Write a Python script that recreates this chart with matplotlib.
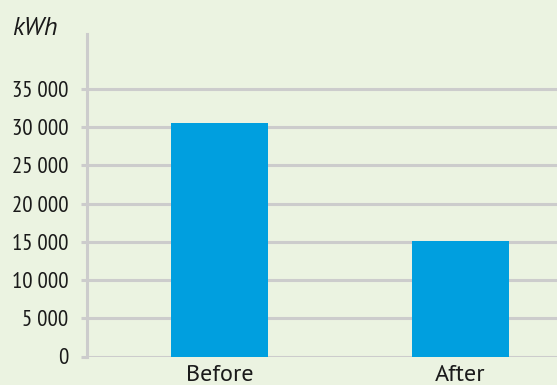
import matplotlib
matplotlib.use("Agg")
import matplotlib.pyplot as plt

categories = ["Before", "After"]
energy_kwh = [30550, 15100]
y_ticks = [0, 5000, 10000, 15000, 20000, 25000, 30000, 35000]
y_labels = ["0", "5 000", "10 000", "15 000", "20 000", "25 000", "30 000", "35 000"]

bg = "#ebf3e1"
grid_col = "#cccccc"
bar_col = "#009fdf"
text_col = "#1a1a1a"

narrow = ['PT Sans Narrow', 'Archivo Narrow', 'DejaVu Sans']
regular = ['PT Sans', 'Lato', 'DejaVu Sans']
plt.rcParams['font.family'] = narrow

fig = plt.figure(figsize=(5.57, 3.85), dpi=100, facecolor=bg)
ax = fig.add_axes([87 / 557, 1 - 356.5 / 385, 1 - 87 / 557, (356.5 - 34) / 385])
ax.set_facecolor(bg)

x = list(range(len(categories)))
ax.bar(x, energy_kwh, width=0.404, color=bar_col, zorder=3)

ax.set_xlim(-0.554, 1.404)
ax.set_ylim(0, 42200)
ax.set_yticks(y_ticks)
ax.set_yticklabels(y_labels)
ax.yaxis.grid(True, color=grid_col, linewidth=2.2, zorder=0)
ax.tick_params(axis='y', length=4.3, width=2.2, color=grid_col, labelsize=16.5, pad=9, labelcolor=text_col)

ax.set_xticks(x)
ax.set_xticklabels(categories, family=regular)
ax.tick_params(axis='x', length=0, labelsize=17.5, pad=6, labelcolor=text_col)

for s in ["top", "right", "bottom"]:
    ax.spines[s].set_visible(False)
ax.spines["left"].set_color(grid_col)
ax.spines["left"].set_linewidth(2.2)

fig.text(12 / 557, 1 - 35 / 385, "kWh", fontsize=18.5, style="italic", family=regular,
         color=text_col, va="baseline")

fig.savefig("out.png", dpi=100, facecolor=bg)
